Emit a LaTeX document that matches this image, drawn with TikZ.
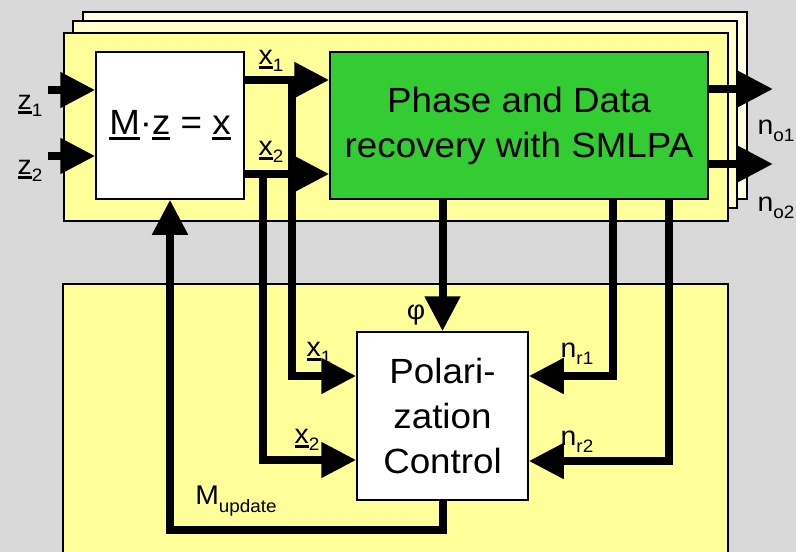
\documentclass[tikz,border=0pt]{standalone}
\usepackage{fontspec}
\setmainfont{Liberation Sans}[FakeStretch=1.05]
\usetikzlibrary{arrows.meta,calc}
\definecolor{pcgrey}{HTML}{D9D9D9}
\definecolor{pcyellow}{HTML}{FFFF99}
\definecolor{pccream}{HTML}{FFFFCC}
\definecolor{pcpale}{HTML}{FFFFE3}
\definecolor{pcgreen}{HTML}{33CC33}
\newcommand\ubar[1]{\setbox0\hbox{#1}\rlap{\rule[-0.16em]{\wd0}{0.1em}}\box0\relax}
\newcommand\sub[1]{\raisebox{-0.27em}{\fontsize{18}{18}\selectfont #1}}
\tikzset{
  stack/.style={draw=black, line width=1.5pt},
  block/.style={draw=black, line width=1.5pt, inner sep=0pt, align=center, font=\fontsize{35}{45}\selectfont},
  lbl/.style={font=\fontsize{27}{27}\selectfont, inner sep=0pt},
  wire/.style={line width=8pt},
  feed/.style={wire, -{Triangle[length=35pt,width=34pt]}},
}

\begin{document}
\begin{tikzpicture}[x=1pt,y=-1pt]
  \fill[pcgrey] (0,0) rectangle (796,552);
  \useasboundingbox (0,0) rectangle (796,552);
  % stacked frames
  \filldraw[stack, fill=pcpale] (83,12) rectangle (747,199);
  \filldraw[stack, fill=pccream] (73,21) rectangle (737,208);
  \filldraw[stack, fill=pcyellow] (64,33) rectangle (728,221);
  % lower frame, open at the bottom
  \fill[pcyellow] (63,284) rectangle (728,552);
  \draw[stack] (63,552) -- (63,284) -- (728,284) -- (728,552);

  \node[block, fill=white, minimum width=148pt, minimum height=147pt, font=\fontsize{35}{40}\selectfont] (M) at (170,125.5) {\ubar{M}·\ubar{z} = \ubar{x}};
  \node[block, fill=pcgreen, minimum width=378pt, minimum height=147pt] (PD) at (519,125.5) {Phase and Data\\recovery with SMLPA};
  \node[block, fill=white, minimum width=171pt, minimum height=168pt] (Pol) at (442.5,416) {Polari-\\zation\\Control};

  \node[lbl] (z1l) at (30,106) {\ubar{z}\sub{1}};
  \node[lbl] (z2l) at (30,171) {\ubar{z}\sub{2}};
  \node[lbl] (x1t) at (271,61) {\ubar{x}\sub{1}};
  \node[lbl] (x2t) at (271,152) {\ubar{x}\sub{2}};
  \node[lbl] (x1p) at (319,353) {\ubar{x}\sub{1}};
  \node[lbl] (x2p) at (307,440) {\ubar{x}\sub{2}};
  \node[lbl] (nr1) at (577,354) {n\sub{r1}};
  \node[lbl] (nr2) at (577,442) {n\sub{r2}};
  \node[lbl] (no1) at (776,131) {n\sub{o1}};
  \node[lbl] (no2) at (776,208) {n\sub{o2}};
  \node[lbl] (phi) at (416,315) {φ};
  \node[lbl] (Mup) at (236,501) {M\sub{update}};

  \coordinate (z1) at (48,90);
  \coordinate (z2) at (48,156);
  \coordinate (x1o) at (244,80);
  \coordinate (x2o) at (244,174);
  \coordinate (x1b) at (292,80);
  \coordinate (x2b) at (263,174);
  \coordinate (r1) at (613,199);
  \coordinate (r2) at (669,199);
  \coordinate (o1) at (773,89);
  \coordinate (o2) at (773,164);

  \draw[feed] (z1) -- (z1 -| M.west);
  \draw[feed] (z2) -- (z2 -| M.west);
  \draw[feed] (x1o) -- (x1o -| PD.west);
  \draw[feed] (x2o) -- (x2o -| PD.west);
  \draw[feed] (x1b) |- ($(Pol.west)+(0,-40)$);
  \draw[feed] (x2b) |- ($(Pol.west)+(0,44)$);
  \draw[feed] (PD.south -| Pol.north) -- (Pol.north);
  \draw[feed] (r1) |- ($(Pol.east)+(0,-40)$);
  \draw[feed] (r2) |- ($(Pol.east)+(0,45)$);
  \draw[feed] (o1 -| PD.east) -- (o1);
  \draw[feed] (o2 -| PD.east) -- (o2);
  \draw[feed] (Pol.south) -- ++(0,29) -| (M.south);
\end{tikzpicture}
\end{document}
